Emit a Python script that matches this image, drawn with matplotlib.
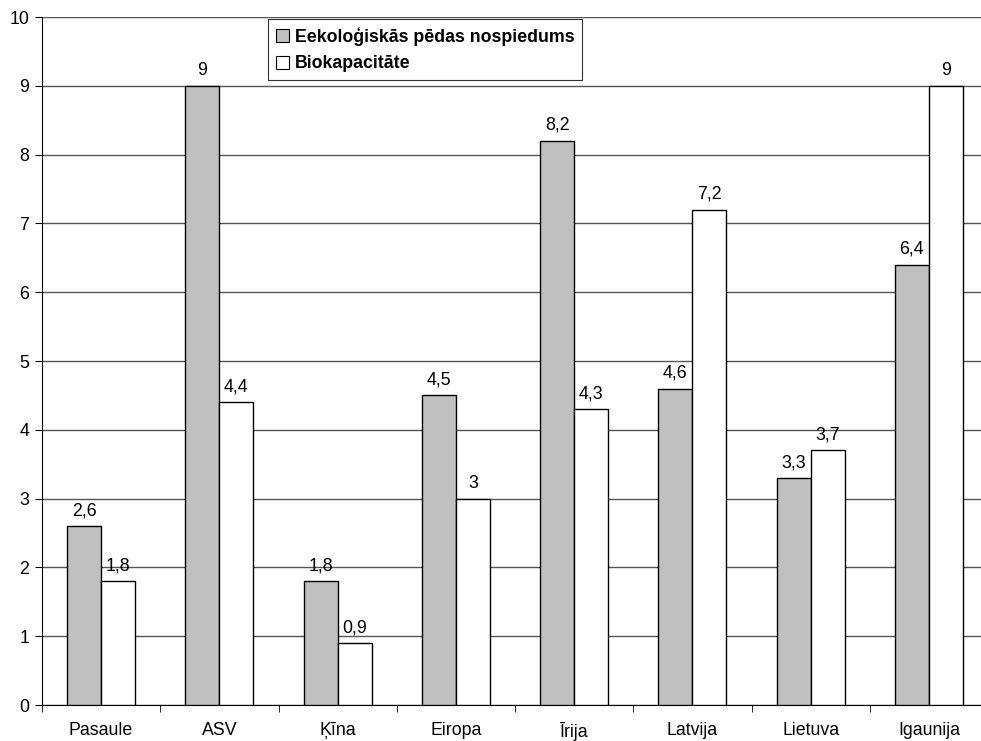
import numpy as np
import matplotlib.pyplot as plt
from matplotlib.patches import Patch

plt.rcParams['font.family'] = ['Liberation Sans', 'DejaVu Sans']

countries = ['Pasaule', 'ASV', 'Ķīna', 'Eiropa', 'Īrija', 'Latvija', 'Lietuva', 'Igaunija']
footprint = [2.6, 9, 1.8, 4.5, 8.2, 4.6, 3.3, 6.4]
biocapacity = [1.8, 4.4, 0.9, 3, 4.3, 7.2, 3.7, 9]
series_names = ['Eekoloģiskās pēdas nospiedums', 'Biokapacitāte']

FS = 12.8


def fmt(v):
    # comma decimal, no trailing zeros
    s = ('%g' % v)
    return s.replace('.', ',')


fig = plt.figure(figsize=(9.81, 7.41), dpi=100)
# plot area runs a little past the right edge, as in the original
ax = fig.add_axes([42 / 981, 1 - 705 / 741, 946 / 981, 688 / 741])

x = np.arange(len(countries))
w = 0.288
b1 = ax.bar(x - w / 2, footprint, w, color='#c0c0c0', edgecolor='black', linewidth=1, zorder=3)
b2 = ax.bar(x + w / 2, biocapacity, w, color='white', edgecolor='black', linewidth=1, zorder=3)

for bars, vals in ((b1, footprint), (b2, biocapacity)):
    for r, v in zip(bars, vals):
        ax.annotate(fmt(v), (r.get_x() + r.get_width() / 2, v), xytext=(0, 5),
                    textcoords='offset points', ha='center', va='bottom', fontsize=FS)

ax.set_xlim(-0.5, len(countries) - 0.5)
ax.set_ylim(0, 10)
ax.set_yticks(range(0, 11))
ax.yaxis.grid(True, color='#555555', linewidth=1, zorder=0)
ax.set_axisbelow(True)

ax.set_xticks(x)
ax.set_xticklabels(countries, fontsize=FS)
ax.tick_params(axis='x', length=0, pad=12.5)
ax.set_xticks(np.arange(-0.5, len(countries)), minor=True)
ax.tick_params(axis='x', which='minor', length=5, direction='out')
ax.tick_params(axis='y', length=5, direction='out', labelsize=FS, pad=4)

for s in ('top', 'right'):
    ax.spines[s].set_visible(False)
ax.spines['left'].set_color('black')
ax.spines['bottom'].set_color('black')

handles = [Patch(facecolor='#c0c0c0', edgecolor='black', linewidth=0.8),
           Patch(facecolor='white', edgecolor='black', linewidth=0.8)]
leg = ax.legend(handles, series_names, loc='upper left',
                bbox_to_anchor=((268 - 42) / 946, (705 - 19) / 688),
                prop={'weight': 'bold', 'size': FS}, frameon=True, fancybox=False,
                edgecolor='black', handlelength=0.75, handleheight=0.75, handletextpad=0.3,
                borderpad=0.45, labelspacing=0.55, borderaxespad=0)
leg.get_frame().set_linewidth(0.8)
leg.set_zorder(5)

fig.savefig('out.png', dpi=100)
